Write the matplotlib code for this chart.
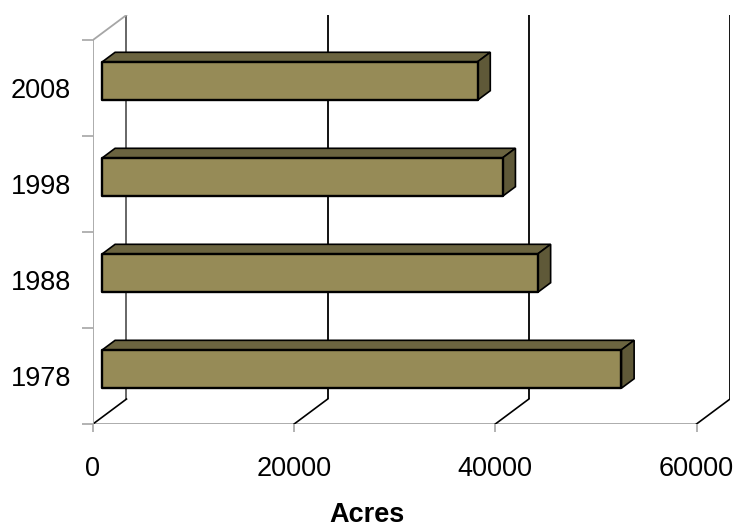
import numpy as np
import matplotlib
matplotlib.use("Agg")
import matplotlib.pyplot as plt
from matplotlib.patches import Polygon

plt.rcParams["font.family"] = ["Liberation Sans", "DejaVu Sans"]

years = ["1978", "1988", "1998", "2008"]
acres = [51600, 43300, 39800, 37300]
xticks = [0, 20000, 40000, 60000]

# pseudo-3D geometry: depth of the back wall in data units
DX = 3330.0
DY = 0.26
FRONT, BACK = 0.28, 0.66   # bar faces as fraction of depth
BAR_H = 0.40

FACE = "#968b57"
TOP = "#6b6440"
SIDE = "#5f5938"
GRID_GREY = "#a6a6a6"
FS = 19.5

fig = plt.figure(figsize=(7.36, 5.27), dpi=100)
ax = fig.add_axes([93 / 736, 103 / 527, 637 / 736, 409 / 527])
ncat = len(years)
xmax = xticks[-1]
ax.set_xlim(0, xmax + DX)
ax.set_ylim(0, ncat + DY)
for s in ax.spines.values():
    s.set_visible(False)

# back wall gridlines
for v in xticks:
    col = "#5a5a5a" if v == 0 else "black"
    ax.plot([v + DX, v + DX], [DY, ncat + DY], color=col, lw=1.3, zorder=1,
            solid_capstyle="butt")
# floor: front edge and depth lines
ax.plot([0, xmax], [0, 0], color=GRID_GREY, lw=1.3, zorder=1)
for v in xticks:
    ax.plot([v, v + DX], [0, DY], color="black", lw=1.2, zorder=1)
# left wall
ax.plot([0, 0], [0, ncat], color=GRID_GREY, lw=1.3, zorder=1)
ax.plot([0, DX], [ncat, ncat + DY], color=GRID_GREY, lw=1.3, zorder=1)

# bars
ddx = (BACK - FRONT) * DX
ddy = (BACK - FRONT) * DY
for i, val in enumerate(acres):
    x0 = FRONT * DX
    x1 = val + FRONT * DX
    yc = i + 0.5 + FRONT * DY
    y0, y1 = yc - BAR_H / 2, yc + BAR_H / 2
    top = Polygon([(x0, y1), (x1, y1), (x1 + ddx, y1 + ddy), (x0 + ddx, y1 + ddy)],
                  closed=True, facecolor=TOP, edgecolor="black", lw=1.2, zorder=3)
    side = Polygon([(x1, y0), (x1, y1), (x1 + ddx, y1 + ddy), (x1 + ddx, y0 + ddy)],
                   closed=True, facecolor=SIDE, edgecolor="black", lw=1.2, zorder=3)
    ax.add_patch(top)
    ax.add_patch(side)
    ax.fill_between([x0, x1], y0, y1, facecolor=FACE, edgecolor="black",
                    lw=1.7, zorder=4)

# ticks
ax.set_xticks(xticks)
ax.set_xticklabels([str(v) for v in xticks])
ax.tick_params(axis="x", colors=GRID_GREY, length=6, width=1.2, pad=17,
               labelsize=FS, labelcolor="black")
ax.set_yticks(np.arange(ncat + 1))
ax.set_yticklabels([])
ax.set_yticks(np.arange(ncat) + 0.5, minor=True)
ax.set_yticklabels(years, minor=True)
ax.tick_params(axis="y", which="major", colors=GRID_GREY, length=8, width=1.2)
ax.tick_params(axis="y", which="minor", length=0, pad=16, labelsize=FS,
               labelcolor="black")

ax.set_xlabel("Acres", fontsize=FS, fontweight="bold")
ax.xaxis.set_label_coords(0.43, -0.222)
ax.xaxis.label.set_va("center")

fig.savefig("out.png", dpi=100)
